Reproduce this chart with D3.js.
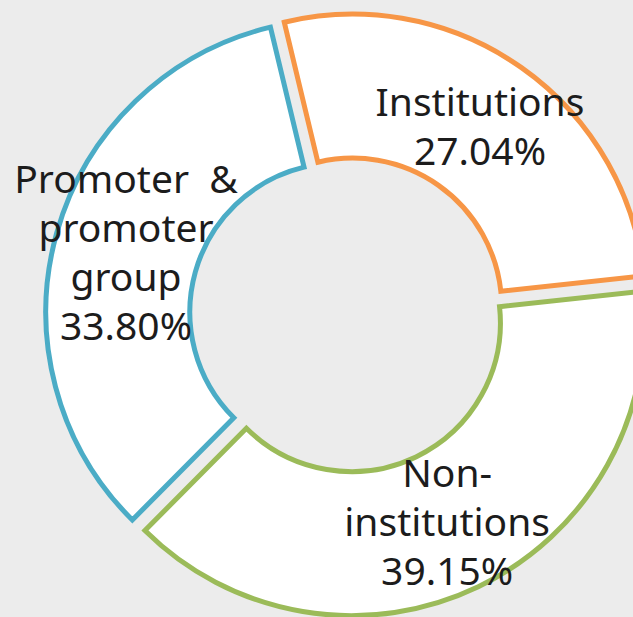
<!DOCTYPE html>
<html>
<head>
<meta charset="utf-8">
<script src="https://cdn.jsdelivr.net/npm/d3@7/dist/d3.min.js"></script>
<style>
  html, body { margin: 0; padding: 0; background: #ececec; }
  svg { display: block; }
</style>
</head>
<body>
<div id="chart"></div>
<script>
// shareholding pattern
const categories = ['Institutions', 'Non-institutions', 'Promoter & promoter group'];
const shares = [27.04, 39.15, 33.80];
const shareLabels = ['27.04%', '39.15%', '33.80%'];
// how the category names wrap inside the ring
const nameLines = [
  ['Institutions'],
  ['Non-', 'institutions'],
  ['Promoter  &', 'promoter', 'group']
];
const colors = ['#F79646', '#9BBB59', '#4BACC6'];

const width = 633;
const height = 617;
const cx = 347.5;
const cy = 314.5;
const outerRadius = 293;
const innerRadius = 149;
const explode = 9;
const startDeg = -13.5;
const lineHeight = 49;
const capHalf = 14;

const data = categories.map((c, i) => ({
  name: c,
  value: shares[i],
  label: shareLabels[i],
  lines: nameLines[i].concat([shareLabels[i]]),
  color: colors[i]
}));

const svg = d3.select('#chart')
  .append('svg')
  .attr('width', width)
  .attr('height', height);

svg.append('rect')
  .attr('width', width)
  .attr('height', height)
  .attr('fill', '#ececec');

const g = svg.append('g')
  .attr('transform', 'translate(' + cx + ',' + cy + ')');

const pie = d3.pie()
  .sort(null)
  .value(d => d.value)
  .startAngle(startDeg * Math.PI / 180)
  .endAngle((startDeg + 360) * Math.PI / 180);

const arc = d3.arc()
  .innerRadius(innerRadius)
  .outerRadius(outerRadius);

const arcs = pie(data);

// push each slice out along its middle angle
function offset(d) {
  const mid = (d.startAngle + d.endAngle) / 2;
  return [Math.sin(mid) * explode, -Math.cos(mid) * explode];
}

const slices = g.selectAll('g.slice')
  .data(arcs)
  .enter()
  .append('g')
  .attr('class', 'slice')
  .attr('transform', d => 'translate(' + offset(d)[0] + ',' + offset(d)[1] + ')');

slices.append('path')
  .attr('d', arc)
  .attr('fill', '#ffffff')
  .attr('stroke', d => d.data.color)
  .attr('stroke-width', 5)
  .attr('stroke-linejoin', 'miter');

// labels sit on the arc centroid
slices.append('text')
  .attr('text-anchor', 'middle')
  .attr('font-family', '"Noto Sans", "Open Sans", sans-serif')
  .attr('font-size', '39px')
  .attr('fill', '#1c1c1c')
  .style('white-space', 'pre')
  .each(function (d) {
    const c = arc.centroid(d);
    const lines = d.data.lines;
    const top = c[1] - (lines.length - 1) * lineHeight / 2 + capHalf;
    d3.select(this).selectAll('tspan')
      .data(lines)
      .enter()
      .append('tspan')
      .attr('x', c[0])
      .attr('y', (l, i) => top + i * lineHeight)
      .text(l => l);
  });
</script>
</body>
</html>
